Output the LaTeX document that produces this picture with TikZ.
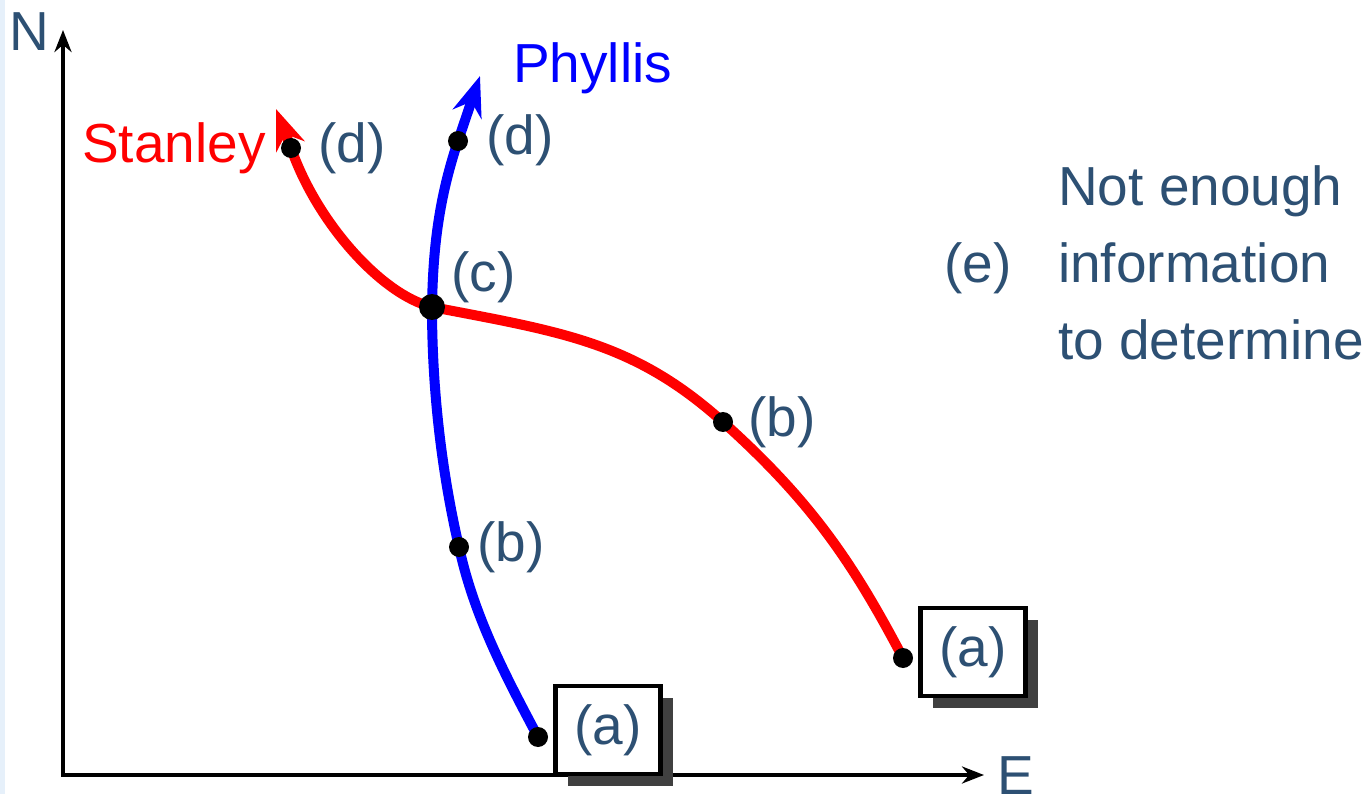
\documentclass[tikz,border=0pt]{standalone}
\usepackage{fontspec}
\setmainfont{Liberation Sans}
\usetikzlibrary{arrows.meta,shadows}
\definecolor{labelblue}{RGB}{45,80,115}
\definecolor{edgeblue}{RGB}{230,240,250}
\begin{document}
\begin{tikzpicture}[x=1pt,y=-1pt,
    axis/.style={line width=4pt, {Stealth[length=22pt,width=17pt]}-{Stealth[length=22pt,width=17pt]}},
    curve/.style={line width=10pt, -{Stealth[length=40pt,width=30pt]}},
    dot/.style={circle, fill=black, inner sep=0pt, minimum size=20pt},
    lbl/.style={text=labelblue, font=\fontsize{55}{77}\selectfont, inner sep=0pt},
    answer/.style={lbl, draw=black, line width=4.5pt, fill=white, minimum width=105pt, minimum height=88pt,
        drop shadow={shadow xshift=12pt, shadow yshift=-12pt, fill=black!75, opacity=1}}]
\useasboundingbox (0,0) rectangle (1369,794);
\fill[edgeblue] (0,0) rectangle (5,794);

% axes
\coordinate (origin) at (63,775);
\coordinate (ntip) at (63,30);
\coordinate (etip) at (984,775);
\draw[axis] (ntip) |- (etip);
\node[lbl] (nlabel) at (29,32) {N};
\node[lbl] (elabel) at (1016,776) {E};

% points on the curves
\coordinate (pa) at (538,737);
\coordinate (pb) at (459,547);
\coordinate (c) at (432,307);
\coordinate (pd) at (458,141);
\coordinate (ptip) at (480,76);
\coordinate (sa) at (903,658);
\coordinate (sb) at (723,422);
\coordinate (sd) at (291,148);
\coordinate (stip) at (276,109);

% Stanley
\draw[curve, red] (sa) .. controls +(-50,-95) and +(89,80) .. (sb)
    .. controls +(-89,-80) and +(130,25) .. (c)
    .. controls +(-50,-12) and +(26,75) .. (sd) -- (stip);
% Phyllis
\draw[curve, blue] (pa) .. controls +(-33,-62) and +(15,69) .. (pb)
    .. controls +(-18,-78) and +(0,80) .. (c)
    .. controls +(1,-60) and +(-19,57) .. (pd) -- (ptip);

\foreach \p in {pa,pb,pd,sa,sb,sd} {
    \node[dot] (dot-\p) at (\p) {};
}
\node[dot, minimum size=26pt] (dot-c) at (c) {};

\node[lbl, text=red, anchor=west] (stanley) at (82,148) {Stanley};
\node[lbl, text=blue, anchor=west] (phyllis) at (513,68) {Phyllis};

\node[lbl, anchor=west] (lpd) at (486,140) {(d)};
\node[lbl, anchor=west] (lsd) at (318,148) {(d)};
\node[lbl, anchor=west] (lc) at (451,277) {(c)};
\node[lbl, anchor=west] (lpb) at (477,547) {(b)};
\node[lbl, anchor=west] (lsb) at (748,422) {(b)};
\node[answer] (lpa) at (608,730) {(a)};
\node[answer] (lsa) at (973,652) {(a)};

\node[lbl, anchor=west] (le) at (944,268) {(e)};
\node[lbl, anchor=west, align=left] (note) at (1058,263) {Not enough\\information\\to determine};
\end{tikzpicture}
\end{document}
